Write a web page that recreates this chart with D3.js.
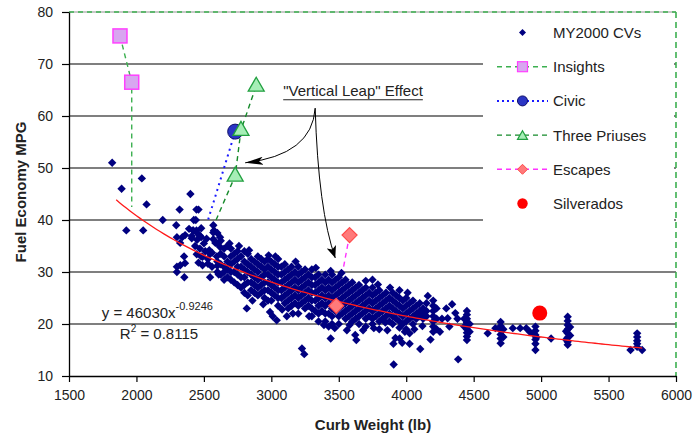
<!DOCTYPE html>
<html><head><meta charset="utf-8">
<script src="https://cdn.jsdelivr.net/npm/d3@7"></script>
<style>
html,body{margin:0;padding:0;background:#fff;}
text{font-family:"Liberation Sans",Arial,Helvetica,sans-serif;}
</style></head>
<body><svg id="c" width="694" height="437"></svg>
<script>
// ---------- DATA ----------
const xTicks = [1500,2000,2500,3000,3500,4000,4500,5000,5500,6000];
const yTicks = [10,20,30,40,50,60,70,80];
const gridValues = [20,30,40,50,60,70];

// MY2000 conventional vehicles: [curb weight lb, MPG]
const cvPoints = [
[1820,51],[1890,46],[2040,48],[2075,43],[1925,38],[2050,38],[2195,40],[2400,45],[2320,42],[2445,42],[2460,42],
[2295,39],[2425,40],[2440,40],[2420,38],[2445,38],[2570,39],[2575,38],[2300,36.7],[2340,36.7],[2300,31],[2300,30],
[2355,29],[2353,33],[2360,31.7],[2325,31.3],[2361,37.1],[2324,35.6],[2410,36.5],[2450,36.2],[2480,36.7],[2520,36.4],
[2435,35],[2470,34.5],[2500,35.5],[2540,34.2],[2585,35.6],[2620,34.8],[2447,33.4],[2490,32.9],[2530,32.5],[2560,33.7],
[2596,33],[2530,31.6],[2600,31.2],[2390,38.3],[2420,38],[2450,37.5],[2480,38.4],[2410,36.9],[2470,37],[2570,37.6],
[2570,36.3],[2620,36.7],[2460,31.8],[2490,31.3],[2546,29],[2560,31],[2610,29.5],[2480,33],[2510,34],[2545,33.5],
[2600,37.5],[2600,35.5],[2600,32],[2600,30],
[2625,36],[2625,33.5],[2625,31.5],[2625,29.5],
[2650,34.5],[2650,33],[2650,31],[2650,30],[2650,28.5],
[2675,35],[2675,32],[2675,30.5],[2675,29],
[2700,34.5],[2700,33],[2700,31.5],[2700,30],[2700,28.5],
[2725,33.5],[2725,32],[2725,30],[2725,28],
[2750,34],[2750,32.5],[2750,31],[2750,29.5],[2750,27.5],
[2775,33],[2775,31],[2775,29],[2775,27],
[2800,34],[2800,32],[2800,30.5],[2800,29],[2800,27.5],[2800,26],
[2825,33.5],[2825,31.5],[2825,30],[2825,28],[2825,25.5],[2818,23],
[2850,32.5],[2850,31],[2850,29.5],[2850,28],[2850,26.5],
[2875,32],[2875,30.5],[2875,29],[2875,27.5],[2875,26],
[2900,33],[2900,31.5],[2900,30],[2900,28.5],[2900,27],[2900,25.5],
[2925,32.5],[2925,31],[2925,29],[2925,27.5],[2925,26],
[2950,32],[2950,30.5],[2950,29.5],[2950,28],[2950,26.5],[2950,25],
[2975,32.5],[2975,31],[2975,29.5],[2975,28],[2975,26.5],[2975,24.5],
[3000,32],[3000,30.5],[3000,29],[3000,27.5],[3000,26],[3000,24.5],[2990,22.3],
[3025,31.5],[3025,30],[3025,28.5],[3025,27],[3025,25.5],[3010,21.5],[3040,20.7],
[3050,32.5],[3050,31],[3050,29.5],[3050,28],[3050,26.5],[3050,25],[3050,23.5],
[3075,31],[3075,29.5],[3075,28],[3075,26.5],[3075,25],
[3100,31.5],[3100,30],[3100,28.5],[3100,27],[3100,25.5],[3100,24],[3115,21.5],
[3125,30.5],[3125,29],[3125,27.5],[3125,26],[3125,24.5],[3125,23],
[3150,31],[3150,29.5],[3150,28],[3150,26.5],[3150,25],[3150,23.5],
[3175,30],[3175,28.5],[3175,27],[3175,25.5],[3175,24],
[3200,31],[3200,29.5],[3200,28],[3200,26.5],[3200,25],[3200,23.5],[3200,22],
[3225,30],[3225,28.5],[3225,27],[3225,25.5],[3225,24],[3227,15.3],
[3250,30.5],[3250,29],[3250,27.5],[3250,26],[3250,24.5],[3250,23],[3244,14.2],
[3275,29.5],[3275,28],[3275,26.5],[3275,25],[3275,23.5],
[3300,30.5],[3300,29],[3300,27.5],[3300,26],[3300,24.5],[3300,23],[3300,21.5],
[3325,29],[3325,27.5],[3325,26],[3325,24.5],[3325,22.5],
[3350,29.5],[3350,28],[3350,26.5],[3350,25],[3350,23.5],[3350,22],[3350,20.5],
[3375,28.5],[3375,27],[3375,25.5],[3375,24],[3375,22.5],
[3400,29.5],[3400,28],[3400,26.5],[3400,25],[3400,23.5],[3400,22],[3400,20.5],
[3425,28.5],[3425,27],[3425,25.5],[3425,24],[3425,22],[3425,19.5],
[3450,29.5],[3450,28],[3450,26.5],[3450,25],[3450,23],[3450,21.5],[3450,20],[3440,17.2],
[3475,28.5],[3475,27],[3475,25.5],[3475,24],[3475,22.5],
[3500,29],[3500,27.5],[3500,26],[3500,24.5],[3500,23],[3500,21.5],[3500,20],
[3525,28],[3525,26.5],[3525,25],[3525,23.5],[3525,22],
[3550,28.5],[3550,27],[3550,25.5],[3550,24],[3550,22.5],[3550,21],[3560,18.8],
[3575,27.5],[3575,26],[3575,24.5],[3575,23],[3575,21.5],
[3600,28],[3600,26.5],[3600,25],[3600,23.5],[3600,22],[3600,20.5],[3622,17.9],
[3625,27],[3625,25.5],[3625,24],[3625,22.5],[3625,21],[3630,16.9],
[3650,27.5],[3650,26],[3650,24.5],[3650,23],[3650,21.5],[3650,20],
[3675,26.5],[3675,25],[3675,23.5],[3675,22],
[3700,27],[3700,25.5],[3700,24],[3700,22.5],[3700,21],[3700,19.5],
[3725,26],[3725,24.5],[3725,23],[3725,21.5],
[3750,28.5],[3750,27],[3750,25.5],[3750,24],[3750,22.5],[3750,21],[3750,20],
[3775,26],[3775,24.5],[3775,23],[3775,21.5],
[3800,26.5],[3800,25],[3800,23.5],[3800,22],[3800,20.5],[3800,19],
[3825,25.5],[3825,24],[3825,22.5],[3825,21],
[3850,26],[3850,24.5],[3850,23],[3850,21.5],[3845,20.3],
[3875,25],[3875,23.5],[3875,22],[3875,20.5],
[3900,26],[3900,24.5],[3900,23],[3900,21.5],[3900,20],[3905,16.2],[3907,12.2],
[3925,25.5],[3925,24],[3925,22.5],[3925,21],[3920,17.3],
[3950,26.5],[3950,25],[3950,23.5],[3950,22],[3950,20.5],[3950,19.3],[3951,17.2],
[3975,24.5],[3975,23],[3975,21.5],[3975,20],[3970,16.4],
[4000,25],[4000,23.5],[4000,22],[4000,20.5],[4000,19],
[4025,24],[4025,22.5],[4025,21],[4025,18.2],[4025,16.2],
[4050,24.5],[4050,23],[4050,21.5],[4050,20],
[4075,23.5],[4075,22],[4075,21],
[4100,24],[4100,22.5],[4100,21.5],[4104,15.2],
[4125,23],[4125,22],[4125,21],
[4150,24],[4150,22.5],[4150,21.5],[4180,17],
[4200,24.5],[4200,23.5],[4200,22.5],[4200,21.5],[4200,20.5],[4200,19.5],[4200,18.5],
[4225,23],[4225,21],[4225,19],
[4265,21],[4297,23],[4307,21.1],[4364,22.1],[4385,13.2],
[4450,22.5],[4450,21.8],[4450,21],[4450,20.3],[4450,19.6],[4450,19],[4450,18.3],[4450,17.6],[4450,16.9],
[4430,21],[4430,19.5],[4470,20],[4470,18.5],
[4604,18.2],[4661,19.2],
[4700,20.4],[4700,19.6],[4700,18.8],[4700,18],[4700,17.2],[4700,16.3],[4720,19],[4720,17.5],
[4790,19.2],[4845,19.2],[4890,19.2],[4915,18.5],
[4958,19.5],[4958,18.7],[4958,17.9],[4958,17],[4958,16.2],[4958,15],[4940,18.2],[4965,17.4],
[5074,17.2],
[5197,21.4],[5197,20.6],[5197,19.8],[5197,19],[5197,18.2],[5197,17.4],[5197,16.6],[5197,16],
[5185,18.6],[5185,17],[5215,19.4],[5215,17.8],
[5663,15],[5712,18.2],[5712,17.5],[5712,16.8],[5712,16.2],[5712,15.6],[5749,15],
[2690,35.5],[2760,35],[2835,34.2],[2980,33.2],[3030,33],[3180,32],[3330,30.8],[3440,30.2],[3520,29.8],
[3700,28.3],[3790,27.6],[3880,27],[4010,26],[4160,25.4],[2860,24.5],[2940,23.8],[3080,22.8],[3160,22],
[3280,21.5],[3390,19.8],[3470,19.2],[3580,19.8],[3680,18.8],[3760,19.2],[3860,18.8],[3990,18.5],
[4060,19],[4120,19.6],[4250,18.5],[4320,19.5],[4340,23.8],[4380,21]
];

// Hybrid / comparison series
const insightsPoints = [[1878,75.4],[1965,66.5]];
const insightsLine   = [[1878,75.4],[1965,66.5],[1965,42.5]];
const civicPoints    = [[2732,57]];
const civicLine      = [[2732,57],[2525,39.5]];
const priusPoints    = [[2732,48.5],[2775,57.3],[2888,65.8]];
const priusLine      = [[2590,40],[2732,48.5],[2775,57.3],[2888,65.8]];
const escapePoints   = [[3580,37.1],[3481,23.5]];
const silveradoPoints= [[4990,22.1]];

// Trendline equation (as printed on chart): y = 46030 x^-0.9246
const trendCoef = 46030, trendExp = -0.9246;
const trendRange = [1850, 5750];

const legendLabels = ["MY2000 CVs","Insights","Civic","Three Priuses","Escapes","Silverados"];

// ---------- DRAW ----------
const svg = d3.select("#c");
const L = 69, R = 676, T = 12, B = 376;
const x = d3.scaleLinear().domain([1500,6000]).range([L,R]);
const y = d3.scaleLinear().domain([10,80]).range([B,T]);

const diamond = r => `M0,${-r}L${r},0L0,${r}L${-r},0Z`;
const triangle = s => { const h = s*0.87; return `M0,${-h*0.62}L${s/2},${h*0.38}L${-s/2},${h*0.38}Z`; };

// gridlines
svg.append("g").selectAll("line").data(gridValues).join("line")
  .attr("x1",L).attr("x2",R).attr("y1",d=>y(d)).attr("y2",d=>y(d))
  .attr("stroke","#000").attr("stroke-width",1.1);

// top and right border
svg.append("line").attr("x1",L).attr("x2",R).attr("y1",y(80)).attr("y2",y(80))
  .attr("stroke","#777").attr("stroke-width",0.8);
svg.append("line").attr("x1",L).attr("x2",R).attr("y1",y(80)).attr("y2",y(80))
  .attr("stroke","#3cb050").attr("stroke-width",1.3).attr("stroke-dasharray","5,4");
svg.append("line").attr("x1",R).attr("x2",R).attr("y1",y(80)).attr("y2",y(10))
  .attr("stroke","#3cb050").attr("stroke-width",1.6).attr("stroke-dasharray","6,4");

// axes
const xAxis = svg.append("g").attr("transform",`translate(0,${B})`)
  .call(d3.axisBottom(x).tickValues(xTicks).tickFormat(d3.format("d")).tickSize(6).tickSizeOuter(0).tickPadding(8));
const yAxis = svg.append("g").attr("transform",`translate(${L},0)`)
  .call(d3.axisLeft(y).tickValues(yTicks).tickSize(7).tickSizeOuter(0).tickPadding(9));
[xAxis,yAxis].forEach(a=>{
  a.select(".domain").attr("stroke","#000").attr("stroke-width",1.3);
  a.selectAll(".tick line").attr("stroke","#000").attr("stroke-width",1.2);
  a.selectAll("text").attr("font-size",14).attr("fill","#222").attr("font-family","'Liberation Sans',Arial,sans-serif");
});

// legend box (white, covers gridlines)
svg.append("rect").attr("x",483).attr("y",13).attr("width",191).attr("height",212).attr("fill","#fff");

const line = d3.line().x(d=>x(d[0])).y(d=>y(d[1]));

// series connecting lines (under the CV cloud)
svg.append("path").attr("d",line(insightsLine)).attr("fill","none").attr("stroke","#3cb050").attr("stroke-width",1.4).attr("stroke-dasharray","5,4");
svg.append("path").attr("d",line(civicLine)).attr("fill","none").attr("stroke","#1a1aff").attr("stroke-width",2).attr("stroke-dasharray","2,4");
svg.append("path").attr("d",line(priusLine)).attr("fill","none").attr("stroke","#158a2a").attr("stroke-width",1.4).attr("stroke-dasharray","5,4");
svg.append("path").attr("d",line(escapePoints)).attr("fill","none").attr("stroke","#ff33ff").attr("stroke-width",1.4).attr("stroke-dasharray","5,4");

// CV scatter
svg.append("g").selectAll("path").data(cvPoints).join("path")
  .attr("transform",d=>`translate(${x(d[0])},${y(d[1])})`)
  .attr("d",diamond(4.2)).attr("fill","#000080");

// trendline
const trendData = d3.range(trendRange[0], trendRange[1]+1, 25).map(w=>[w, trendCoef*Math.pow(w,trendExp)]);
svg.append("path").attr("d",line(trendData)).attr("fill","none").attr("stroke","#ff1a1a").attr("stroke-width",1.3);

// markers
svg.append("g").selectAll("rect").data(insightsPoints).join("rect")
  .attr("x",d=>x(d[0])-7).attr("y",d=>y(d[1])-7).attr("width",14).attr("height",14)
  .attr("fill","#d8a6f0").attr("stroke","#ff40ff").attr("stroke-width",1.5);
svg.append("g").selectAll("circle").data(civicPoints).join("circle")
  .attr("cx",d=>x(d[0])).attr("cy",d=>y(d[1])).attr("r",7.5)
  .attr("fill","#2a35c4").attr("stroke","#10106a").attr("stroke-width",1);
svg.append("g").selectAll("path").data(priusPoints).join("path")
  .attr("transform",d=>`translate(${x(d[0])},${y(d[1])})`)
  .attr("d",triangle(16)).attr("fill","#a6eeb6").attr("stroke","#22a040").attr("stroke-width",1.3);
svg.append("g").selectAll("path").data(escapePoints).join("path")
  .attr("transform",d=>`translate(${x(d[0])},${y(d[1])})`)
  .attr("d",diamond(7.5)).attr("fill","#ff7a7a").attr("stroke","#ff4a4a").attr("stroke-width",1.2);
svg.append("g").selectAll("circle").data(silveradoPoints).join("circle")
  .attr("cx",d=>x(d[0])).attr("cy",d=>y(d[1])).attr("r",7.5).attr("fill","#ff0000");

// legend
const lgX0 = 497, lgX1 = 548, lgSym = 522.5, lgText = 553, lgY0 = 32.5, lgDy = 34.2;
const lg = svg.append("g");
legendLabels.forEach((lab,i)=>{
  const cy = lgY0 + i*lgDy;
  lg.append("text").attr("x",lgText).attr("y",cy+5.5).attr("font-size",15).attr("fill","#222").text(lab);
});
let cy;
cy = lgY0; lg.append("path").attr("transform",`translate(${lgSym},${cy})`).attr("d",diamond(3.5)).attr("fill","#000080");
cy = lgY0+lgDy;
lg.append("line").attr("x1",lgX0).attr("x2",lgX1).attr("y1",cy).attr("y2",cy).attr("stroke","#3cb050").attr("stroke-width",1.4).attr("stroke-dasharray","5,4");
lg.append("rect").attr("x",lgSym-5).attr("y",cy-5).attr("width",10).attr("height",10).attr("fill","#d8a6f0").attr("stroke","#ff40ff").attr("stroke-width",1.2);
cy = lgY0+2*lgDy;
lg.append("line").attr("x1",lgX0).attr("x2",lgX1).attr("y1",cy).attr("y2",cy).attr("stroke","#1a1aff").attr("stroke-width",2).attr("stroke-dasharray","2,3");
lg.append("circle").attr("cx",lgSym).attr("cy",cy).attr("r",5).attr("fill","#2a35c4").attr("stroke","#10106a");
cy = lgY0+3*lgDy;
lg.append("line").attr("x1",lgX0).attr("x2",lgX1).attr("y1",cy).attr("y2",cy).attr("stroke","#158a2a").attr("stroke-width",1.4).attr("stroke-dasharray","5,4");
lg.append("path").attr("transform",`translate(${lgSym},${cy+1})`).attr("d",triangle(10)).attr("fill","#a6eeb6").attr("stroke","#22a040").attr("stroke-width",1.2);
cy = lgY0+4*lgDy;
lg.append("line").attr("x1",lgX0).attr("x2",lgX1).attr("y1",cy).attr("y2",cy).attr("stroke","#ff33ff").attr("stroke-width",1.4).attr("stroke-dasharray","5,4");
lg.append("path").attr("transform",`translate(${lgSym},${cy})`).attr("d",diamond(5)).attr("fill","#ff7a7a").attr("stroke","#ff4a4a");
cy = lgY0+5*lgDy;
lg.append("circle").attr("cx",lgSym).attr("cy",cy).attr("r",5.2).attr("fill","#ff0000");

// axis titles
svg.append("text").attr("x",373).attr("y",430).attr("text-anchor","middle")
  .attr("font-size",15).attr("font-weight","bold").attr("fill","#222").text("Curb Weight (lb)");
svg.append("text").attr("transform","translate(26,192) rotate(-90)").attr("text-anchor","middle")
  .attr("font-size",15).attr("font-weight","bold").attr("fill","#222").text("Fuel Economy MPG");

// equation
const eq = svg.append("text").attr("x",x(1743)).attr("y",y(21.2)).attr("font-size",15).attr("fill","#222");
eq.append("tspan").text("y = 46030x");
eq.append("tspan").attr("dy",-8).attr("font-size",11).text("-0.9246");
const r2 = svg.append("text").attr("x",x(1877)).attr("y",y(17.1)).attr("font-size",15).attr("fill","#222");
r2.append("tspan").text("R");
r2.append("tspan").attr("dy",-7).attr("font-size",10).text("2");
r2.append("tspan").attr("dy",7).text(" = 0.8115");

// annotation
const ann = svg.append("text").attr("x",x(3088)).attr("y",y(63.8)).attr("font-size",15).attr("fill","#222").text("\"Vertical Leap\" Effect");
const annW = ann.node().getComputedTextLength();
svg.append("line").attr("x1",x(3088)).attr("x2",x(3088)+annW).attr("y1",y(63.8)+3.5).attr("y2",y(63.8)+3.5).attr("stroke","#222").attr("stroke-width",1.2);

const defs = svg.append("defs");
defs.append("marker").attr("id","ahFill").attr("viewBox","0 0 18 8").attr("refX",18).attr("refY",4)
  .attr("markerWidth",18).attr("markerHeight",8).attr("markerUnits","userSpaceOnUse").attr("orient","auto")
  .append("path").attr("d","M0,0L18,4L0,8L4,4Z").attr("fill","#000");
defs.append("marker").attr("id","ahOpen").attr("viewBox","0 0 12 10").attr("refX",12).attr("refY",5)
  .attr("markerWidth",12).attr("markerHeight",10).attr("markerUnits","userSpaceOnUse").attr("orient","auto")
  .append("path").attr("d","M0,0L12,5L0,10L3,5Z").attr("fill","#000");

const aStart = [3325,61.5];
const arrowLeft = {ctrl:[3303,52.5], end:[2806,51]};
const arrowDown = {ctrl:[3348,41.9], end:[3474,32.7]};
const qpath = (s,c,e)=>`M${x(s[0])},${y(s[1])}Q${x(c[0])},${y(c[1])} ${x(e[0])},${y(e[1])}`;
svg.append("path").attr("d",qpath(aStart,arrowLeft.ctrl,arrowLeft.end)).attr("fill","none").attr("stroke","#000").attr("stroke-width",1).attr("marker-end","url(#ahFill)");
svg.append("path").attr("d",qpath(aStart,arrowDown.ctrl,arrowDown.end)).attr("fill","none").attr("stroke","#000").attr("stroke-width",1).attr("marker-end","url(#ahOpen)");
</script></body></html>
